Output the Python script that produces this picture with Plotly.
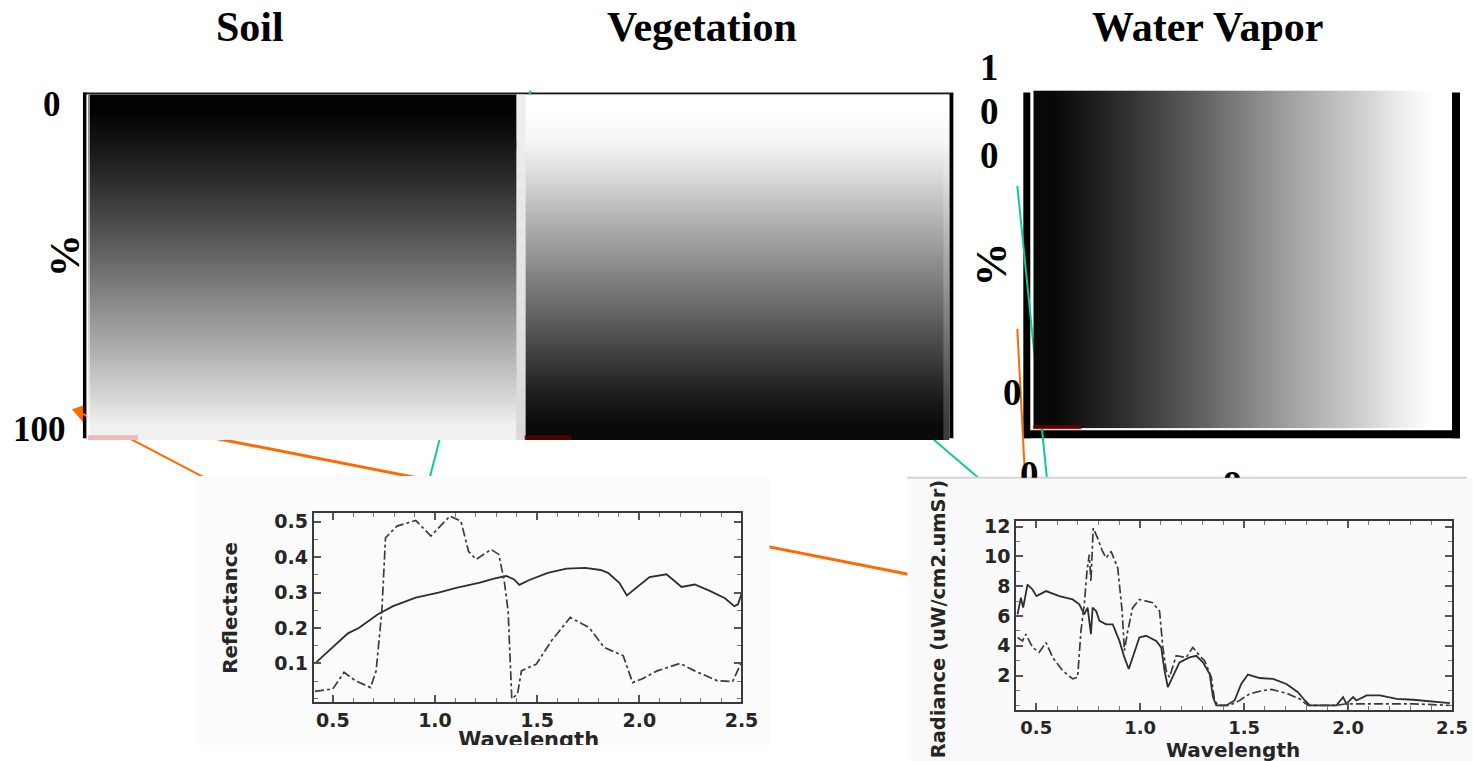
import plotly.graph_objects as go

REF_W, H = 1474, 761
W = 1490  # layout width; the viewer fits this page width into the 1474 px picture


def fx(p):
    return p / REF_W


def fy(p):
    return 1 - p / H


# ---------------- data ----------------
depth_pct = [0, 10, 20, 30, 40, 50, 60, 70, 80, 90, 100]
soil_gray = [3, 20, 40, 62, 85, 110, 135, 160, 185, 212, 240]
veg_gray = [255, 245, 220, 192, 165, 138, 112, 85, 58, 30, 10]
vapor_pct = [0, 10, 20, 30, 40, 50, 60, 70, 80, 90, 100]
vapor_gray = [8, 28, 50, 75, 100, 128, 155, 180, 205, 235, 255]

refl_wl_soil = [0.413, 0.537, 0.574, 0.629, 0.721, 0.795, 0.906, 1.017, 1.109, 1.22, 1.293, 1.349,
                1.386, 1.413, 1.459, 1.552, 1.644, 1.736, 1.81, 1.847, 1.902, 1.939, 1.994, 2.05,
                2.133, 2.207, 2.271, 2.345, 2.419, 2.465, 2.483, 2.5]
refl_soil = [0.100, 0.164, 0.185, 0.201, 0.239, 0.262, 0.286, 0.300, 0.314, 0.328, 0.340, 0.347,
             0.338, 0.322, 0.335, 0.356, 0.368, 0.370, 0.364, 0.356, 0.328, 0.292, 0.319, 0.344,
             0.352, 0.316, 0.323, 0.305, 0.284, 0.262, 0.267, 0.297]
refl_wl_veg = [0.413, 0.5, 0.555, 0.611, 0.685, 0.712, 0.74, 0.758, 0.814, 0.906, 0.98, 1.073,
               1.127, 1.164, 1.201, 1.275, 1.312, 1.339, 1.358, 1.376, 1.404, 1.423, 1.496, 1.57,
               1.662, 1.755, 1.828, 1.921, 1.967, 2.013, 2.087, 2.199, 2.271, 2.382, 2.456, 2.5]
refl_veg = [0.021, 0.028, 0.075, 0.051, 0.032, 0.079, 0.248, 0.455, 0.488, 0.504, 0.460, 0.516,
            0.502, 0.417, 0.394, 0.422, 0.408, 0.333, 0.248, 0.000, 0.014, 0.079, 0.098, 0.164,
            0.230, 0.201, 0.145, 0.122, 0.046, 0.056, 0.079, 0.100, 0.079, 0.051, 0.049, 0.103]

rad_wl_soil = [0.41, 0.426, 0.437, 0.458, 0.482, 0.501, 0.547, 0.611, 0.675, 0.707, 0.731, 0.747,
               0.763, 0.771, 0.788, 0.804, 0.836, 0.868, 0.9, 0.924, 0.945, 0.964, 0.996, 1.028,
               1.077, 1.101, 1.117, 1.133, 1.157, 1.189, 1.237, 1.27, 1.302, 1.334, 1.35, 1.366,
               1.414, 1.454, 1.486, 1.518, 1.575, 1.639, 1.703, 1.759, 1.792, 1.816, 1.944, 1.976,
               1.992, 2.024, 2.04, 2.089, 2.153, 2.234, 2.313, 2.41, 2.49]
rad_soil = [6.11, 7.22, 6.56, 8.11, 7.78, 7.33, 7.67, 7.33, 7.11, 6.78, 6.11, 6.56,
            4.78, 6.56, 6.33, 5.67, 5.44, 5.44, 4.33, 3.22, 2.44, 3.22, 4.56, 4.67,
            4.33, 3.89, 2.33, 1.22, 1.89, 2.89, 3.22, 3.33, 2.89, 2.11, 0.56, 0.0,
            0.0, 0.33, 1.44, 2.07, 1.84, 1.78, 1.44, 0.89, 0.33, 0.0, 0.0, 0.56,
            0.11, 0.56, 0.33, 0.67, 0.67, 0.44, 0.38, 0.27, 0.15]
rad_wl_veg = [0.41, 0.434, 0.45, 0.482, 0.514, 0.547, 0.579, 0.627, 0.675, 0.699, 0.715, 0.731,
              0.744, 0.755, 0.763, 0.774, 0.795, 0.819, 0.836, 0.86, 0.892, 0.913, 0.924, 0.94,
              0.964, 0.996, 1.06, 1.093, 1.109, 1.125, 1.141, 1.173, 1.221, 1.253, 1.286, 1.31,
              1.342, 1.358, 1.374, 1.43, 1.478, 1.527, 1.59, 1.631, 1.703, 1.767, 1.807, 1.944,
              1.992, 2.024, 2.089, 2.186, 2.313, 2.49]
rad_veg = [4.56, 4.33, 4.78, 3.89, 3.56, 4.22, 3.22, 2.33, 1.78, 1.89, 5.0, 6.78,
           9.0, 10.11, 8.33, 11.9, 11.22, 10.33, 9.89, 10.33, 9.22, 6.33, 3.67, 5.0,
           6.56, 7.11, 6.89, 6.33, 3.89, 2.33, 1.89, 3.33, 3.22, 3.89, 3.33, 3.0,
           1.89, 0.33, 0.0, 0.0, 0.33, 0.78, 1.0, 1.07, 0.82, 0.44, 0.0, 0.0,
           0.11, 0.11, 0.11, 0.15, 0.11, 0.0]

wl_ticks = [0.5, 1.0, 1.5, 2.0, 2.5]
wl_labels = ["0.5", "1.0", "1.5", "2.0", "2.5"]
refl_ticks = [0.1, 0.2, 0.3, 0.4, 0.5]
refl_labels = ["0.1", "0.2", "0.3", "0.4", "0.5"]
rad_ticks = [2, 4, 6, 8, 10, 12]
rad_labels = ["2", "4", "6", "8", "10", "12"]

GRAY = [[0, "black"], [1, "white"]]
SERIF = "Liberation Serif"
SANS = "DejaVu Sans"
INK = "#262626"

fig = go.Figure()

# --------------- gradient panels ---------------
fig.add_trace(go.Heatmap(z=[[v, v] for v in soil_gray], x=[0, 1], y=depth_pct, colorscale=GRAY,
                         zmin=0, zmax=255, zsmooth="best", showscale=False, hoverinfo="skip",
                         xaxis="x", yaxis="y"))
fig.add_trace(go.Heatmap(z=[[v, v] for v in veg_gray], x=[0, 1], y=depth_pct, colorscale=GRAY,
                         zmin=0, zmax=255, zsmooth="best", showscale=False, hoverinfo="skip",
                         xaxis="x2", yaxis="y2"))
fig.add_trace(go.Heatmap(z=[vapor_gray, vapor_gray], x=vapor_pct, y=[0, 1], colorscale=GRAY,
                         zmin=0, zmax=255, zsmooth="best", showscale=False, hoverinfo="skip",
                         xaxis="x3", yaxis="y3"))

# --------------- spectra ---------------
line_solid = dict(color="#2e2e2e", width=1.8)
line_dd = dict(color="#3c3c3c", width=1.7, dash="dashdot")
fig.add_trace(go.Scatter(x=refl_wl_soil, y=refl_soil, mode="lines", line=line_solid,
                         xaxis="x4", yaxis="y4", hoverinfo="skip"))
fig.add_trace(go.Scatter(x=refl_wl_veg, y=refl_veg, mode="lines", line=line_dd,
                         xaxis="x4", yaxis="y4", hoverinfo="skip"))
fig.add_trace(go.Scatter(x=rad_wl_soil, y=rad_soil, mode="lines", line=line_solid,
                         xaxis="x5", yaxis="y5", hoverinfo="skip"))
fig.add_trace(go.Scatter(x=rad_wl_veg, y=rad_veg, mode="lines", line=line_dd,
                         xaxis="x5", yaxis="y5", hoverinfo="skip"))

# texts cut by the edges of the pasted pictures
fig.add_trace(go.Scatter(x=[529], y=[742], mode="text", text=["<b>Wavelength</b>"],
                         textfont=dict(family=SANS, size=21, color=INK), cliponaxis=True,
                         xaxis="x6", yaxis="y6", hoverinfo="skip"))
fig.add_trace(go.Scatter(x=[1030, 1233], y=[476, 479], mode="text", text=["<b>0</b>", "<b>o</b>"],
                         textfont=dict(family=SERIF, size=37, color="black"), cliponaxis=True,
                         xaxis="x7", yaxis="y7", hoverinfo="skip"))

hidden = dict(visible=False, showgrid=False, zeroline=False, fixedrange=True)


def dom_x(a, b):
    return [fx(a), fx(b)]


def dom_y(top, bottom):
    return [fy(bottom), fy(top)]


def chart_axis(domain, rng, tickvals, ticktext, minor_dtick, anchor, size, standoff=0):
    return dict(domain=domain, range=rng, anchor=anchor, tickmode="array", tickvals=tickvals,
                ticktext=ticktext, ticks="inside", ticklen=7, tickwidth=1.5, tickcolor="#555",
                showline=True, linewidth=2.2, linecolor="#3a3a3a", mirror="ticks", showgrid=False,
                zeroline=False, fixedrange=True, ticklabelstandoff=standoff,
                tickfont=dict(family=SANS, size=size, color=INK, weight="bold"),
                minor=dict(ticks="inside", ticklen=4, tickwidth=1, tickcolor="#777",
                           tickmode="linear", tick0=0, dtick=minor_dtick, showgrid=False))


layout = dict(
    width=W, height=H, margin=dict(l=0, r=0, t=0, b=0), autosize=False,
    paper_bgcolor="white", plot_bgcolor="rgba(0,0,0,0)", showlegend=False, hovermode=False,
    xaxis=dict(hidden, domain=dom_x(88, 517), range=[-0.5, 1.5], anchor="y"),
    yaxis=dict(hidden, domain=dom_y(90, 438), range=[105, -5], anchor="x"),
    xaxis2=dict(hidden, domain=dom_x(517, 950), range=[-0.5, 1.5], anchor="y2"),
    yaxis2=dict(hidden, domain=dom_y(90, 438), range=[105, -5], anchor="x2"),
    xaxis3=dict(hidden, domain=dom_x(1034, 1453), range=[-5, 105], anchor="y3"),
    yaxis3=dict(hidden, domain=dom_y(86, 426), range=[-0.5, 1.5], anchor="x3"),
    xaxis4=chart_axis(dom_x(314, 742), [0.407, 2.5], wl_ticks, wl_labels, 0.1, "y4", 19),
    yaxis4=chart_axis(dom_y(511, 702), [-0.01, 0.526], refl_ticks, refl_labels, 0.05, "x4", 19),
    xaxis5=chart_axis(dom_x(1017, 1453), [0.404, 2.5], wl_ticks, wl_labels, 0.1, "y5", 18, 0),
    yaxis5=chart_axis(dom_y(519, 710), [-0.33, 12.4], rad_ticks, rad_labels, 1, "x5", 19),
    xaxis6=dict(hidden, domain=dom_x(195, 770), range=[195, 770], anchor="y6"),
    yaxis6=dict(hidden, domain=dom_y(474, 745), range=[745, 474], anchor="x6"),
    xaxis7=dict(hidden, domain=dom_x(990, 1260), range=[990, 1260], anchor="y7"),
    yaxis7=dict(hidden, domain=dom_y(440, 476), range=[476, 440], anchor="x7"),
)
fig.update_layout(**layout)

# --------------- shapes ---------------
shapes = []


def rect(x0, y0, x1, y1, color, layer="below"):
    shapes.append(dict(type="rect", xref="paper", yref="paper", x0=fx(x0), x1=fx(x1),
                       y0=fy(y1), y1=fy(y0), fillcolor=color, line=dict(width=0), layer=layer))


def seg(x0, y0, x1, y1, color, width, layer="below"):
    shapes.append(dict(type="line", xref="paper", yref="paper", x0=fx(x0), y0=fy(y0),
                       x1=fx(x1), y1=fy(y1), line=dict(color=color, width=width), layer=layer))


ORANGE = "#ff6a00"
TEAL = "#10c89a"

# arrow head
shapes.append(dict(type="path", xref="paper", yref="paper", layer="below",
                   path=f"M {fx(72)} {fy(407)} L {fx(87)} {fy(402)} L {fx(84)} {fy(421)} Z",
                   fillcolor=ORANGE, line=dict(width=0)))
# frames of the top pictures
rect(83, 88, 954, 90, "#1a1a1a")
rect(83, 88, 87, 436, "black")
rect(950, 89, 954, 436, "black")
rect(1024, 88, 1031, 436, "black")
rect(1024, 428, 1461, 436, "black")
rect(1453, 88, 1461, 436, "black")
# connector lines
seg(80, 410, 260, 505, ORANGE, 2)
seg(200, 433, 960, 583, ORANGE, 3)
seg(1018, 326, 1026, 480, ORANGE, 2)
seg(531, 86, 425, 495, TEAL, 2)
seg(900, 408, 1000, 494, TEAL, 2)
seg(1018, 182, 1050, 500, TEAL, 2)
# pasted chart pictures
rect(195, 474, 770, 745, "#fbfbfb")
rect(908, 476, 1474, 761, "#fafafa")
seg(908, 476, 1468, 476, "#d4d4d4", 2)
# small highlights on the gradients
rect(86, 90, 90, 436, "rgba(255,255,255,0.55)", "above")
rect(517, 90, 526, 438, "rgba(236,236,236,0.92)", "above")
rect(944, 90, 950, 438, "rgba(255,255,255,0.2)", "above")
rect(88, 433, 138, 438, "rgba(240,160,165,0.7)", "above")
rect(525, 433, 572, 438, "rgba(90,0,0,0.8)", "above")
rect(1034, 423, 1082, 427, "rgba(110,0,0,0.85)", "above")

# --------------- annotations ---------------
ann = []


def text(x, y, s, size, family=SERIF, angle=0, color="black"):
    ann.append(dict(xref="paper", yref="paper", x=fx(x), y=fy(y), text=f"<b>{s}</b>",
                    showarrow=False, xanchor="center", yanchor="middle", textangle=angle,
                    font=dict(family=family, size=size, color=color)))


text(250, 22, "Soil", 42)
text(702, 22, "Vegetation", 42)
text(1208, 22, "Water Vapor", 42)
text(52, 100, "0", 35)
text(40, 427, "100", 35)
text(64, 252, "%", 43, angle=-90)
text(990, 63, "1", 37)
text(990, 107, "0", 37)
text(990, 151, "0", 37)
text(992, 261, "%", 44, angle=-90)
text(1013, 390, "0", 37)
text(230, 607, "Reflectance", 20, SANS, -90, INK)
text(940, 618, "Radiance (uW/cm2.umSr)", 19.5, SANS, -90, INK)
text(1234, 750, "Wavelength", 20, SANS, 0, INK)

fig.update_layout(shapes=shapes, annotations=ann)
fig.write_html("out.html", config={"responsive": False, "displayModeBar": False})
